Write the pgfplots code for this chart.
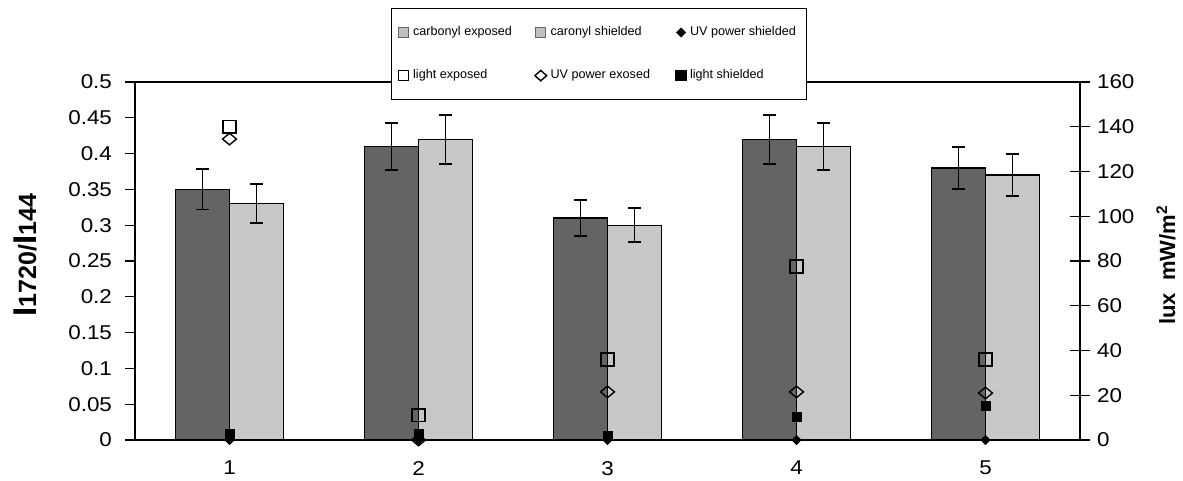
\documentclass[border=0pt]{standalone}
\usepackage{fontspec}
\setmainfont{Liberation Sans}
\newfontfamily\tickfont{Liberation Sans}[FakeStretch=1.12]
\usepackage{pgfplots}
\usepackage{pgfplotstable}
\pgfplotsset{compat=1.18}
\definecolor{darkbar}{HTML}{646464}
\definecolor{lightbar}{HTML}{C8C8C8}
\definecolor{legbar}{HTML}{C0C0C0}

\pgfplotstableread{
x y e
1 0.35 0.028
2 0.41 0.033
3 0.31 0.025
4 0.42 0.034
5 0.38 0.029
}\exposed
\pgfplotstableread{
x y e
1 0.33 0.027
2 0.42 0.034
3 0.30 0.024
4 0.41 0.033
5 0.37 0.029
}\shielded
\pgfplotstableread{
x y
1 0
2 0
3 0
4 0
5 0
}\uvshielded
\pgfplotstableread{
x y
1 140
2 11
3 36
4 77.5
5 36
}\lightexposed
\pgfplotstableread{
x y
1 134.5
2 0
3 21.5
4 21.5
5 21
}\uvexposed
\pgfplotstableread{
x y
1 2.7
2 2.5
3 2
4 10.5
5 15.2
}\lightshielded

\begin{document}
\begin{tikzpicture}
\path[use as bounding box] (-67.5pt,-20.5pt) rectangle (524pt,220pt);
\begin{axis}[
  at={(0pt,0pt)}, anchor=south west,
  scale only axis, width=472.5pt, height=179pt,
  xmin=0.5, xmax=5.5, ymin=0, ymax=0.5,
  axis line style={black, line width=0.6pt},
  xtick={1,2,3,4,5}, xticklabels={1,2,3,4,5},
  xtick style={draw=none},
  minor xtick={0.5,1.5,2.5,3.5,4.5,5.5},
  minor tick length=5pt,
  ytick={0,0.05,0.1,0.15,0.2,0.25,0.3,0.35,0.4,0.45,0.5},
  yticklabels={0,0.05,0.1,0.15,0.2,0.25,0.3,0.35,0.4,0.45,0.5},
  tick align=outside, major tick length=5pt,
  ytick pos=left, xtick pos=bottom,
  tick style={black, line width=0.6pt},
  minor tick style={black, line width=0.6pt},
  ticklabel style={font=\tickfont\fontsize{10}{12}\selectfont},
  yticklabel style={xshift=-3pt},
  xticklabel style={yshift=-2pt},
  ylabel={\bfseries\fontsize{16.5}{18}\selectfont I{\fontsize{12.5}{14}\selectfont 1720/}I{\fontsize{12.5}{14}\selectfont 144}},
  ylabel style={at={(axis description cs:0,0.5)}, anchor=center, yshift=55pt, xshift=3pt},
  ybar, bar width=0.285714,
  clip=false,
]
\addplot[fill=darkbar, draw=black, line width=0.7pt, bar shift=-0.142857,
  error bars/.cd, y dir=both, y explicit,
  error bar style={line width=0.9pt, black},
  error mark options={rotate=90, mark size=3.2pt, line width=0.9pt, black}]
  table[x=x, y=y, y error=e] {\exposed};
\addplot[fill=lightbar, draw=black, line width=0.7pt, bar shift=0.142857,
  error bars/.cd, y dir=both, y explicit,
  error bar style={line width=0.9pt, black},
  error mark options={rotate=90, mark size=3.2pt, line width=0.9pt, black}]
  table[x=x, y=y, y error=e] {\shielded};
\end{axis}
\begin{axis}[
  at={(0pt,0pt)}, anchor=south west,
  scale only axis, width=472.5pt, height=179pt,
  xmin=0.5, xmax=5.5, ymin=0, ymax=160,
  axis x line=none, axis y line*=right,
  axis line style={black, line width=0.6pt},
  ytick={0,20,40,60,80,100,120,140,160},
  tick align=center, major tick length=10pt,
  tick style={black, line width=0.6pt},
  ticklabel style={font=\tickfont\fontsize{10}{12}\selectfont},
  /pgf/number format/assume math mode=true,
  ylabel={\bfseries\fontsize{11}{13}\selectfont lux\ \ mW/m\textsuperscript{2}},
  ylabel style={at={(axis description cs:1,0.5)}, anchor=center, yshift=-43pt, xshift=-2pt},
  clip=false,
  legend columns=3,
  legend cell align=left,
  legend style={at={(0.491,1.078)}, anchor=center, draw=black, line width=0.6pt,
    fill=white, font=\fontsize{6.3}{7.5}\selectfont, inner xsep=3.5pt, inner ysep=7pt,
    row sep=11.5pt,
    /tikz/column 2/.style={column sep=9.5pt},
    /tikz/column 4/.style={column sep=11pt}},
]
\addlegendimage{legend image code/.code={\draw[fill=legbar, draw=black!60, line width=0.5pt] (0pt,-2.5pt) rectangle (5pt,2.5pt);}}
\addlegendentry{carbonyl exposed}
\addlegendimage{legend image code/.code={\draw[fill=legbar, draw=black!60, line width=0.5pt] (0pt,-2.5pt) rectangle (5pt,2.5pt);}}
\addlegendentry{caronyl shielded}
\addplot[only marks, black, mark=diamond*, mark size=2.3pt, mark options={xscale=1.3},
  legend image code/.code={\draw[black, mark=diamond*, mark size=2.1pt, mark options={xscale=1.3}] plot coordinates {(2.5pt,0pt)};}]
  table[x=x, y=y] {\uvshielded};
\addlegendentry{UV power shielded}
\addplot[only marks, black, mark=square, mark size=3.2pt, mark options={line width=0.7pt},
  legend image code/.code={\draw[black, mark=square, mark size=2.5pt, mark options={line width=0.7pt}] plot coordinates {(2.5pt,0pt)};}]
  table[x=x, y=y] {\lightexposed};
\addlegendentry{light exposed}
\addplot[only marks, black, mark=diamond, mark size=2.9pt, mark options={xscale=1.6, line width=0.7pt},
  legend image code/.code={\draw[black, mark=diamond, mark size=2.6pt, mark options={xscale=1.5, line width=0.7pt}] plot coordinates {(2.5pt,0pt)};}]
  table[x=x, y=y] {\uvexposed};
\addlegendentry{UV power exosed}
\addplot[only marks, black, mark=square*, mark size=2.3pt,
  legend image code/.code={\draw[black, mark=square*, mark size=2.5pt] plot coordinates {(2.5pt,0pt)};}]
  table[x=x, y=y] {\lightshielded};
\addlegendentry{light shielded}
\end{axis}
\end{tikzpicture}
\end{document}
